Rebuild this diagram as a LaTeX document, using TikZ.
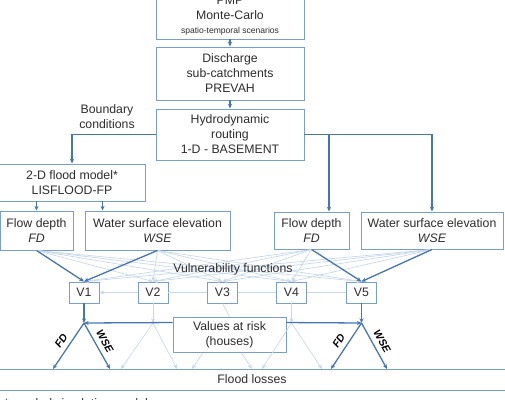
\documentclass[tikz,border=0pt]{standalone}
\usepackage{fontspec}
\setmainfont{Liberation Sans}
\usetikzlibrary{positioning,arrows.meta,calc}
\definecolor{boxblue}{RGB}{120,158,205}
\definecolor{linkblue}{RGB}{70,118,178}
\definecolor{faintblue}{RGB}{200,216,236}
\definecolor{inkgray}{RGB}{45,45,45}

\tikzset{
  flowbox/.style={draw=boxblue,line width=0.8pt,fill=white,align=center,
    text=inkgray,inner sep=1pt},
  vbox/.style={flowbox,minimum width=0.9cm,minimum height=0.63cm},
  mainlink/.style={linkblue,line width=1.1pt,-{Stealth[length=4pt,width=3.5pt]}},
  thinlink/.style={faintblue,line width=0.6pt,-{Stealth[length=4pt,width=3.5pt]}},
  plaintext/.style={text=inkgray,align=center,inner sep=0pt},
  slopelbl/.style={sloped,above,inner sep=4pt,text=black,
    font=\fontsize{9}{10}\selectfont\bfseries\itshape},
}

\begin{document}
\begin{tikzpicture}[x=0.03cm,y=-0.03cm,font=\fontsize{10.5}{12.8}\selectfont]
  \useasboundingbox (0,0) rectangle (505,400);
  \clip (0,0) rectangle (505,400);

  % model chain
  \node[flowbox,minimum width=4.44cm,minimum height=1.38cm] (pmp) at (230,16)
    {PMP\\Monte-Carlo\\[-1pt]{\fontsize{7.3}{8}\selectfont spatio-temporal scenarios}};
  \node[flowbox,minimum width=4.44cm,minimum height=1.59cm] (discharge) at (230,73.5)
    {Discharge\\sub-catchments\\PREVAH};
  \node[flowbox,minimum width=4.44cm,minimum height=1.53cm] (hydro) at (230,134.5)
    {Hydrodynamic\\routing\\1-D - BASEMENT};
  \node[plaintext] (bcond) at (107,117) {Boundary\\conditions};
  \node[flowbox,minimum width=4.38cm,minimum height=1.11cm] (flood2d) at (72,182.5)
    {2-D flood model*\\LISFLOOD-FP};

  % hazard outputs
  \node[flowbox,minimum width=2.19cm,minimum height=1.17cm] (fdL) at (36.5,230.5)
    {Flow depth\\\textit{FD}};
  \node[flowbox,minimum width=4.35cm,minimum height=1.17cm] (wseL) at (157.5,230.5)
    {Water surface elevation\\\textit{WSE}};
  \node[flowbox,minimum width=2.25cm,minimum height=1.11cm] (fdR) at (311.5,230.5)
    {Flow depth\\\textit{FD}};
  \node[flowbox,minimum width=4.26cm,minimum height=1.11cm] (wseR) at (432,230.5)
    {Water surface elevation\\\textit{WSE}};

  \draw[mainlink] (pmp) -- (discharge);
  \draw[mainlink] (discharge) -- (hydro);
  \draw[mainlink] (hydro.west) -| (flood2d.north);
  \draw[mainlink] (hydro.east) -| ([xshift=0.525cm]fdR.north);
  \draw[mainlink] (hydro.east) -| (wseR.north);
  \draw[mainlink] (flood2d.south -| fdL.north) -- (fdL.north);
  \coordinate (wtop) at ([xshift=0.54cm]wseL.north west);
  \draw[mainlink] (flood2d.south -| wtop) -- (wtop);

  % vulnerability functions
  \foreach \i/\x in {1/84,2/153,3/222.5,4/291.5,5/361.5}{
    \node[vbox] (v\i) at (\x,292.5) {V\i};
    \coordinate (j\i) at (\x,323);
  }

  \foreach \s in {fdL,wseL,fdR,wseR}
    \foreach \i in {1,...,5}
      \draw[thinlink] (\s.south) -- (v\i.north);
  \node[plaintext] (vulner) at (233,269.5) {Vulnerability functions};
  \draw[mainlink] (fdL.south) -- (v1.north);
  \draw[mainlink] (wseL.south) -- (v1.north);
  \draw[mainlink] (fdR.south) -- (v5.north);
  \draw[mainlink] (wseR.south) -- (v5.north);

  \draw[thinlink] (v2) -- (v1);
  \draw[faintblue,line width=0.6pt] (v2) -- (v3) (v3) -- (v4) (v4) -- (v5);

  % losses
  \node[draw=boxblue,line width=0.8pt,text=inkgray,minimum width=16.8cm,
    minimum height=0.63cm] (losses) at (252,379.5) {Flood losses};
  \foreach \i/\a/\b in {1/53/110,2/121/177,3/192/252,4/262/322,5/331/387}{
    \coordinate (fa\i) at (\a,369);
    \coordinate (fb\i) at (\b,369);
  }
  \draw[thinlink] (j3) -- (fa3);
  \draw[thinlink] (j3) -- (fb3);

  \node[flowbox,minimum width=3.39cm,minimum height=1.05cm] (risk) at (229.5,334.5)
    {Values at risk\\(houses)};
  \draw[faintblue,line width=0.6pt] (v3.south) -- (risk.north);

  \foreach \i in {2,4}{
    \draw[thinlink] (v\i.south) -- (j\i);
    \draw[thinlink] (j\i) -- (fa\i);
    \draw[thinlink] (j\i) -- (fb\i);
  }
  \draw[mainlink] (v1.south) -- (j1);
  \draw[mainlink] (v5.south) -- (j5);
  \draw[mainlink] ([yshift=-0.18cm]risk.north west) -- (j1);
  \draw[mainlink] ([yshift=-0.18cm]risk.north east) -- (j5);
  \foreach \i in {1,5}{
    \draw[mainlink] (j\i) -- node[slopelbl] {FD} (fa\i);
    \draw[mainlink] (j\i) -- node[slopelbl] {WSE} (fb\i);
  }

  \node[plaintext,anchor=north west] (note) at (4,398.5) {*coupled simulation model};
\end{tikzpicture}
\end{document}
